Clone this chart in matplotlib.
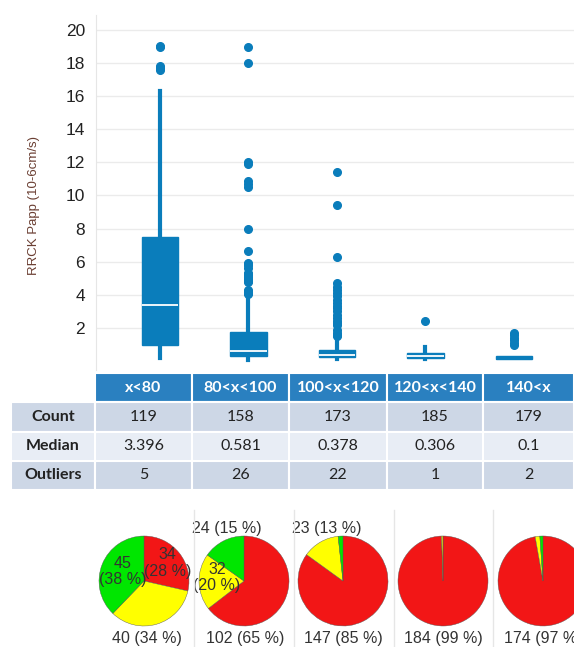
import numpy as np
import matplotlib
matplotlib.use('Agg')
import matplotlib.pyplot as plt
from matplotlib.lines import Line2D

plt.rcParams['font.family'] = ['Liberation Sans', 'DejaVu Sans']

# 箱线图数据
categories = ['x<80', '80<x<100', '100<x<120', '120<x<140', '140<x']
whis_lo = [0.18, 0.05, 0.1, 0.1, 0.1]
q1 = [0.97, 0.3, 0.22, 0.18, 0.1]
med = [3.396, 0.581, 0.378, 0.306, 0.1]
q3 = [7.5, 1.76, 0.66, 0.48, 0.3]
whis_hi = [16.3, 4.1, 1.15, 0.85, 0.3]
outliers = [
    [19.0, 18.95, 17.85, 17.7, 17.55],
    [18.95, 18.0, 12.0, 11.9, 10.9, 10.7, 10.5, 8.0, 6.65, 5.95, 5.85, 5.8, 5.6,
     5.3, 5.25, 5.2, 5.1, 4.95, 4.9, 4.85, 4.8, 4.3, 4.2, 4.15, 4.1, 4.05],
    [11.4, 9.4, 6.3, 4.7, 4.5, 4.3, 4.1, 3.9, 3.7, 3.5, 3.3, 3.2, 3.0, 2.8, 2.6,
     2.4, 2.3, 2.2, 1.9, 1.7, 1.6, 1.5],
    [2.4],
    [1.7, 1.55, 1.4, 1.25, 1.1, 0.95],
]

# 表格数据
row_labels = ['Count', 'Median', 'Outliers']
counts = ['119', '158', '173', '185', '179']
median_txt = ['3.396', '0.581', '0.378', '0.306', '0.1']
n_outliers = ['5', '26', '22', '1', '2']

# 饼图数据
pie_red = [34, 102, 147, 184, 174]
pie_yellow = [40, 32, 23, 1, 3]
pie_green = [45, 24, 3, 0, 2]
pct_red = [28, 65, 85, 99, 97]
pct_yellow = [34, 20, 13, 1, 2]
pct_green = [38, 15, 2, 0, 1]

W, H = 574, 647
fig = plt.figure(figsize=(W / 100, H / 100), dpi=100)

def px_axes(x0, y0, x1, y1):
    # 像素坐标 (左上为原点) 转 figure 坐标
    return fig.add_axes([x0 / W, 1 - y1 / H, (x1 - x0) / W, (y1 - y0) / H])

blue = '#0A7DBB'

# ---- 箱线图 ----
ax = px_axes(96, 15, 574, 370)
stats = []
for i in range(len(categories)):
    stats.append(dict(whislo=whis_lo[i], q1=q1[i], med=med[i], q3=q3[i],
                      whishi=whis_hi[i], fliers=outliers[i]))
bp = ax.bxp(stats, positions=np.arange(1, 6), widths=0.41, patch_artist=True,
            showcaps=False,
            boxprops=dict(facecolor=blue, edgecolor=blue, linewidth=1),
            whiskerprops=dict(color=blue, linewidth=3),
            medianprops=dict(color='white', linewidth=1.3),
            flierprops=dict(marker='o', markerfacecolor=blue, markeredgecolor=blue,
                            markersize=5.5))
# 最后一个箱子太扁, 中位线看不出来
bp['medians'][4].set_color(blue)
ax.set_xlim(0.277, 5.68)
ax.set_ylim(-0.54, 20.9)
ax.set_yticks(np.arange(2, 21, 2))
ax.set_xticks([])
ax.tick_params(axis='y', length=0, labelsize=12.5, pad=8, labelcolor='#222222')
ax.grid(axis='y', color='#EBEBEB', linewidth=1)
ax.set_axisbelow(True)
for s in ['top', 'right', 'bottom']:
    ax.spines[s].set_visible(False)
ax.spines['left'].set_color('#E6E6E6')
ax.set_ylabel('RRCK Papp (10-6cm/s)', fontsize=9.5, color='#6A3E32')
ax.yaxis.set_label_coords(-0.118, 0.462)

# ---- 表格 ----
tax = px_axes(11, 373, 574, 490)
tax.axis('off')
cell_text = [[''] + categories,
             [row_labels[0]] + counts,
             [row_labels[1]] + median_txt,
             [row_labels[2]] + n_outliers]
col_w = [84, 97, 97, 98, 96, 91]
col_w = [w / sum(col_w) for w in col_w]
tb = tax.table(cellText=cell_text, colWidths=col_w, cellLoc='center',
               bbox=[0, 0, 1, 1])
tb.auto_set_font_size(False)
row_colors = ['#2A80C0', '#CDD7E6', '#E8EDF5', '#CDD7E6']
for (r, c), cell in tb.get_celld().items():
    cell.set_edgecolor('white')
    cell.set_linewidth(1.5)
    cell.set_facecolor(row_colors[r])
    txt = cell.get_text()
    txt.set_fontfamily(['Lato', 'DejaVu Sans'])
    txt.set_fontsize(11.5)
    if r == 0:
        txt.set_color('white')
        txt.set_fontweight('bold')
        if c == 0:
            cell.set_facecolor('white')
    else:
        txt.set_color('#222222')
        if c == 0:
            txt.set_fontweight('bold')

# ---- 饼图 ----
pie_cx = [144, 244, 343, 443, 543]
pie_cy = 581
r_px = 45
pie_colors = ['#F21616', '#FFFF00', '#00E600']
# 各饼图上显示的标签: (类别索引, x, y) 以半径为单位
label_pos = [
    [(0, 0.52, 0.4), (2, -0.47, 0.22), (1, 0.07, -1.27)],
    [(2, -0.38, 1.16), (1, -0.6, 0.08), (0, 0.02, -1.27)],
    [(1, -0.36, 1.16), (0, 0.0, -1.27)],
    [(0, 0.0, -1.27)],
    [(0, 0.0, -1.27)],
]
for i in range(5):
    pax = px_axes(pie_cx[i] - r_px, pie_cy - r_px, pie_cx[i] + r_px, pie_cy + r_px)
    vals = [pie_red[i], pie_yellow[i], pie_green[i]]
    pcts = [pct_red[i], pct_yellow[i], pct_green[i]]
    pax.pie(vals, colors=pie_colors, startangle=90, counterclock=False,
            radius=1, wedgeprops=dict(edgecolor='#555555', linewidth=0.3))
    pax.set_xlim(-1, 1)
    pax.set_ylim(-1, 1)
    pax.set_aspect('equal')
    pax.axis('off')
    for k, lx, ly in label_pos[i]:
        if abs(ly) < 1:
            s = '%d\n(%d %%)' % (vals[k], pcts[k])
        else:
            s = '%d (%d %%)' % (vals[k], pcts[k])
        pax.text(lx, ly, s, ha='center', va='center', fontsize=11.5,
                 color='#333333', clip_on=False, linespacing=1.1)

# 饼图之间的分隔线
for xs in [194, 294, 394, 493]:
    fig.add_artist(Line2D([xs / W, xs / W], [0, 1 - 510 / H],
                          color='#E6E6E6', linewidth=1))

fig.savefig('out.png', dpi=100)
